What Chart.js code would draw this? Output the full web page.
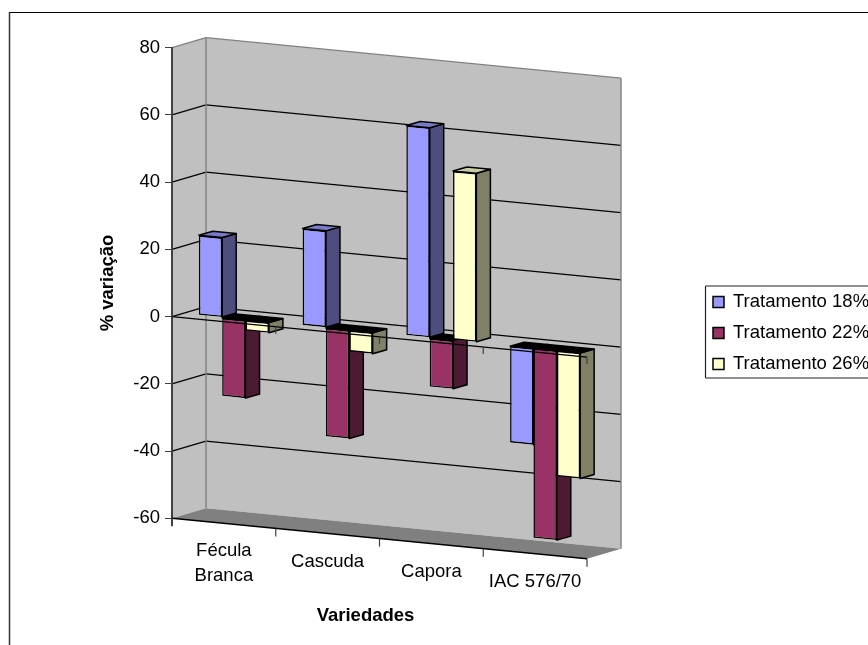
<!DOCTYPE html>
<html>
<head>
<meta charset="utf-8">
<style>
  html, body { margin: 0; padding: 0; background: #fff; }
  canvas { display: block; }
</style>
<script src="https://cdn.jsdelivr.net/npm/chart.js@4"></script>
</head>
<body>
<canvas id="chart" width="868" height="645"></canvas>
<script>
const categories = [['Fécula', 'Branca'], 'Cascuda', 'Capora', 'IAC 576/70'];
const seriesNames = ['Tratamento 18%', 'Tratamento 22%', 'Tratamento 26%'];
const values18 = [23.8, 28.8, 62.5, -28.8];
const values22 = [-23.3, -32.3, -14.5, -56.5];
const values26 = [-3.2, -6.4, 50.3, -37.5];
const yTicks = [80, 60, 40, 20, 0, -20, -40, -60];

const fontFamily = '"Liberation Sans", Arial, sans-serif';
const fontSize = 18.5;

// colours: front, side, top
const faces = [
  ['#9999ff', '#4d4d80', '#7a7acc'],
  ['#993366', '#4d1a33', '#7a2952'],
  ['#ffffcc', '#808066', '#cccca3']
];

// the 3D look: everything drifts down to the right
const slope = 0.0976;
const wallDx = 34, wallDy = -10;   // front corner to back wall
const planeDx = 10, planeDy = -3;  // front axis to the bars' front plane
const barDx = 14, barDy = -4;      // bar depth

const shearY = (chart, x, y) => y + slope * (x - chart.chartArea.left);

const poly = (ctx, pts, fill, stroke) => {
  ctx.beginPath();
  pts.forEach((p, i) => (i ? ctx.lineTo(p[0], p[1]) : ctx.moveTo(p[0], p[1])));
  ctx.closePath();
  if (fill) { ctx.fillStyle = fill; ctx.fill(); }
  if (stroke) { ctx.strokeStyle = stroke; ctx.lineWidth = 1.5; ctx.stroke(); }
};

const line = (ctx, x1, y1, x2, y2, color, width) => {
  ctx.beginPath();
  ctx.moveTo(x1, y1);
  ctx.lineTo(x2, y2);
  ctx.strokeStyle = color;
  ctx.lineWidth = width || 1;
  ctx.stroke();
};

const walls = {
  id: 'walls',
  beforeDraw(chart) {
    const { ctx, chartArea: a, scales: { y } } = chart;
    const yMax = y.getPixelForValue(y.max), yMin = y.getPixelForValue(y.min);
    const backL = a.left + wallDx, backR = a.right + wallDx;
    ctx.save();
    ctx.fillStyle = '#fff';
    ctx.fillRect(0, 0, chart.width, chart.height);
    // outer frame, cut off on the right and at the bottom
    line(ctx, 9, 12.5, chart.width, 12.5, '#000', 1.2);
    line(ctx, 9.5, 12, 9.5, chart.height, '#333', 1.5);

    poly(ctx, [[a.left, yMax], [backL, yMax + wallDy], [backL, yMin + wallDy], [a.left, yMin]], '#c0c0c0');
    poly(ctx, [[backL, yMax + wallDy], [backR, shearY(chart, a.right, yMax) + wallDy],
               [backR, shearY(chart, a.right, yMin) + wallDy], [backL, yMin + wallDy]], '#c0c0c0');
    poly(ctx, [[a.left, yMin], [backL, yMin + wallDy],
               [backR, shearY(chart, a.right, yMin) + wallDy], [a.right, shearY(chart, a.right, yMin)]], '#808080');

    yTicks.forEach(v => {
      if (v === y.min) return;
      const py = y.getPixelForValue(v);
      const color = v === y.max ? '#808080' : '#000';
      line(ctx, a.left, py, backL, py + wallDy, color, 1.2);
      line(ctx, backL, py + wallDy, backR, shearY(chart, a.right, py) + wallDy, color, 1.2);
    });
    line(ctx, backL, yMax + wallDy, backL, yMin + wallDy, '#808080', 1.4);
    line(ctx, backR, shearY(chart, a.right, yMax) + wallDy, backR, shearY(chart, a.right, yMin) + wallDy, '#808080', 1.4);
    ctx.restore();
  }
};

const bars3d = {
  id: 'bars3d',
  // the bars go left to right below, since each one overlaps the previous
  beforeDatasetDraw() { return false; },
  afterDatasetsDraw(chart) {
    const { ctx, chartArea: a, scales: { y } } = chart;
    const dy = barDy - slope * barDx;
    ctx.save();
    ctx.transform(1, slope, 0, 1, planeDx, planeDy - slope * a.left);
    categories.forEach((c, i) => {
      chart.data.datasets.forEach((ds, d) => {
        const bar = chart.getDatasetMeta(d).data[i];
        const { x: cx, y: top, base, width } = bar.getProps(['x', 'y', 'base', 'width']);
        const l = cx - width / 2, r = cx + width / 2;
        const t = Math.min(top, base), b = Math.max(top, base);
        ctx.lineJoin = 'round';
        poly(ctx, [[r, t], [r + barDx, t + dy], [r + barDx, b + dy], [r, b]], faces[d][1], '#000');
        poly(ctx, [[l, t], [l + barDx, t + dy], [r + barDx, t + dy], [r, t]], ds.data[i] < 0 ? '#000' : faces[d][2], '#000');
        bar.draw(ctx);
      });
    });
    ctx.restore();

    // front axis lines and category ticks go over the bars
    ctx.save();
    const yZero = y.getPixelForValue(0), yMin = y.getPixelForValue(y.min);
    line(ctx, a.left, yZero, a.right, shearY(chart, a.right, yZero), '#000', 1.2);
    line(ctx, a.left, yMin, a.right, shearY(chart, a.right, yMin), '#000', 1.4);
    line(ctx, a.left, yMin, a.left, yMin + 8, '#404040', 2);
    line(ctx, a.left, yZero, a.left, yZero + 7, '#404040', 2);
    categories.forEach((c, i) => {
      const px = a.left + (a.right - a.left) * (i + 1) / categories.length;
      line(ctx, px, shearY(chart, px, yZero), px, shearY(chart, px, yZero) + 7, '#404040', 1.2);
      line(ctx, px, shearY(chart, px, yMin), px, shearY(chart, px, yMin) + 8, '#404040', 1.2);
    });
    ctx.restore();
  }
};

const texts = {
  id: 'texts',
  afterDraw(chart) {
    const { ctx, scales: { x, y } } = chart;
    const yMin = y.getPixelForValue(y.min);
    ctx.save();
    ctx.fillStyle = '#000';
    ctx.textBaseline = 'middle';
    ctx.textAlign = 'center';
    ctx.font = `${fontSize}px ${fontFamily}`;
    categories.forEach((c, i) => {
      const px = x.getPixelForValue(i);
      [].concat(c).forEach((t, k) => ctx.fillText(t, px, shearY(chart, px, yMin) + 28 + k * 25));
    });
    ctx.font = `bold ${fontSize}px ${fontFamily}`;
    ctx.fillText('Variedades', 365.5, 616);

    // legend, runs off the right edge like the original
    line(ctx, 705.5, 286, chart.width, 286, '#222', 1.2);
    line(ctx, 705.5, 378, chart.width, 378, '#222', 1.2);
    line(ctx, 705.5, 286, 705.5, 378, '#222', 1.2);
    ctx.textAlign = 'left';
    ctx.font = `${fontSize}px ${fontFamily}`;
    seriesNames.forEach((name, i) => {
      const py = 302 + i * 31;
      ctx.fillStyle = faces[i][0];
      ctx.strokeStyle = '#000';
      ctx.lineWidth = 1.5;
      ctx.fillRect(713, py - 5.5, 11, 11);
      ctx.strokeRect(713, py - 5.5, 11, 11);
      ctx.fillStyle = '#000';
      ctx.fillText(name, 733, py);
    });
    ctx.restore();
  }
};

new Chart(document.getElementById('chart'), {
  type: 'bar',
  data: {
    labels: categories,
    datasets: [values18, values22, values26].map((data, i) => ({
      label: seriesNames[i],
      data,
      backgroundColor: faces[i][0],
      borderColor: '#000',
      borderWidth: 1.5,
      borderSkipped: false,
      categoryPercentage: 0.675,
      barPercentage: 1
    }))
  },
  plugins: [walls, bars3d, texts],
  options: {
    responsive: false,
    animation: false,
    layout: { padding: { top: 47.7, bottom: 126.7, right: 281, left: 0 } },
    plugins: { legend: { display: false }, tooltip: { enabled: false } },
    scales: {
      x: { display: false },
      y: {
        min: -60,
        max: 80,
        afterFit(scale) { scale.width = 172; },
        afterBuildTicks(scale) { scale.ticks = yTicks.map(value => ({ value })); },
        grid: { drawOnChartArea: false, tickLength: 7, color: '#404040' },
        border: { color: '#404040', width: 2 },
        ticks: {
          padding: 5,
          color: '#000',
          font: { family: fontFamily, size: fontSize }
        },
        title: {
          display: true,
          text: '% variação',
          color: '#000',
          font: { family: fontFamily, size: fontSize, weight: 'bold' },
          padding: { top: 97, bottom: 0 }
        }
      }
    }
  }
});
</script>
</body>
</html>
